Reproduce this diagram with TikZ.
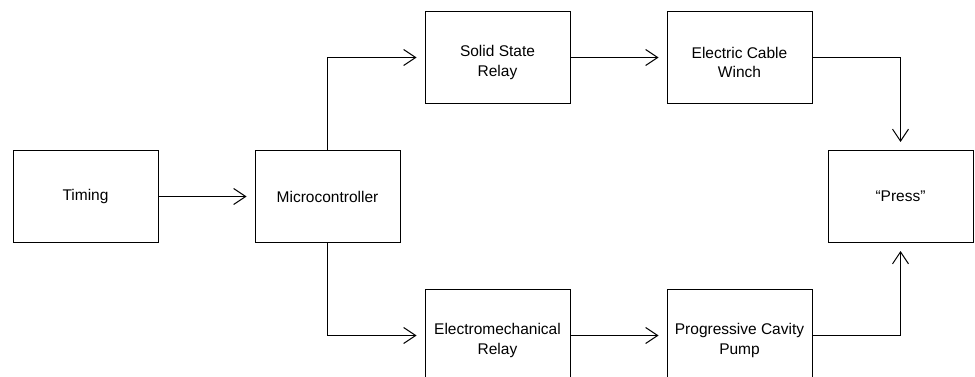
\documentclass[tikz,border=0pt]{standalone}
\usepackage{fontspec}
\setmainfont{Liberation Sans}
\usetikzlibrary{arrows.meta}
\begin{document}
\begin{tikzpicture}[x=1pt,y=1pt,
  block/.style={draw=black, line width=1pt, minimum width=145pt, minimum height=92pt,
    inner sep=0pt, align=center, font=\fontsize{15.5}{19.5}\selectfont},
  % two-line captions sit a little below the box centre
  twoline/.style={block, label={[font=\fontsize{15.5}{19.5}\selectfont, align=center,
    inner sep=0pt, yshift=-5pt]center:#1}},
  flow/.style={draw=black, line width=1pt,
    -{Straight Barb[length=12pt,width=16pt,line width=1pt]}, shorten >=8pt}]
\clip (0,0) rectangle (975,-377);
\node[block] (timing) at (85.5,-196.5) {Timing};
\node[block] (mcu)    at (327.5,-196.5) {Microcontroller};
\node[twoline={Solid State\\Relay}] (ssr) at (497.5,-57.5) {};
\node[twoline={Electric Cable\\Winch}] (winch) at (739.5,-57.5) {};
\node[block] (press)  at (900.5,-196.5) {“Press”};
\node[twoline={Electromechanical\\Relay}] (emr) at (497.5,-335.5) {};
\node[twoline={Progressive Cavity\\Pump}] (pump) at (739.5,-335.5) {};

\draw[flow] (timing.east) -- (mcu.west);
\draw[flow] (mcu.north) |- (ssr.west);
\draw[flow] (ssr.east) -- (winch.west);
\draw[flow] (winch.east) -| (press.north);
\draw[flow] (mcu.south) |- (emr.west);
\draw[flow] (emr.east) -- (pump.west);
\draw[flow] (pump.east) -| (press.south);
\end{tikzpicture}
\end{document}
